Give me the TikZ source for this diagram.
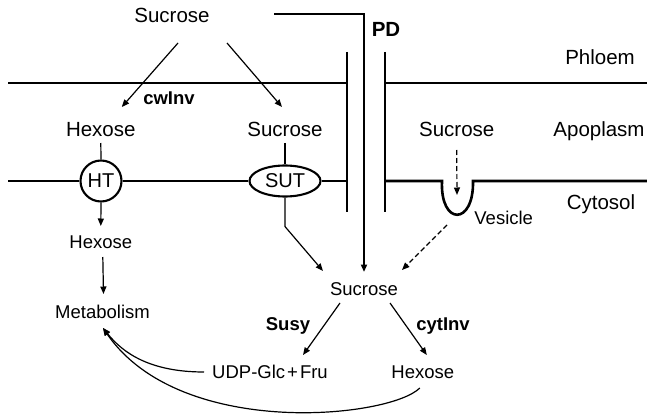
\documentclass[tikz,border=0pt]{standalone}
\usepackage{fontspec}
\setmainfont{Liberation Sans}
\usetikzlibrary{arrows.meta, calc, shapes.geometric}
\tikzset{
  lbl/.style     = {font=\fontsize{20.5}{24}\selectfont, inner sep=0pt, anchor=base},
  met/.style     = {font=\fontsize{18.5}{22}\selectfont, inner sep=0pt, anchor=base},
  enz/.style     = {font=\fontsize{18.5}{22}\selectfont\bfseries, inner sep=0pt, anchor=base},
  memb/.style    = {line width=2.6pt},
  wall/.style    = {line width=2.4pt},
  carrier/.style = {draw, line width=2.1pt, inner sep=0pt, font=\fontsize{20}{24}\selectfont},
  fl/.style      = {-{Triangle[length=7.5pt, width=6pt]}, line width=1.2pt},
  dfl/.style     = {fl, dash pattern=on 5pt off 3pt},
  tie/.style     = {line width=1.2pt},
}

\begin{document}
\begin{tikzpicture}[x=1pt, y=-1pt]
\useasboundingbox (0,0) rectangle (647,414);

% compartment labels
\node[lbl] (phl) at (600,65)  {Phloem};
\node[lbl] (apo) at (599,137) {Apoplasm};
\node[lbl] (cyt) at (601,209) {Cytosol};

% membranes, plasmodesma and vesicle
\node[carrier, circle, minimum size=41pt] (ht) at (101,181) {HT};
\node[carrier, ellipse, minimum width=71pt, minimum height=31pt] (sut) at (285,181) {SUT};
\draw[memb] (8,83) -- (347,83) (385,83) -- (647,83);
\draw[memb] (8,181) -- (ht.west) (ht.east) -- (sut.west) (sut.east) -- (347,181);
\draw[memb] (385,181) -- (442,181) .. controls (440,226) and (474,226) .. (473,181) -- (647,181);
\draw[wall] (347,52) -- (347,212) (385,52) -- (385,212);
\coordinate (ves) at (457,215);

% sugars
\node[lbl] (sucTop) at (172,23)    {Sucrose};
\node[lbl] (hexApo) at (100.8,137) {Hexose};
\node[lbl] (sucApo) at (285,137)   {Sucrose};
\node[lbl] (sucVes) at (456.7,137) {Sucrose};
\node[met] (hexCyt) at (100.8,248) {Hexose};
\node[met] (metab)  at (102.5,318) {Metabolism};
\node[met] (sucCyt) at (364,295)   {Sucrose};
\node[met] (udp)    at (270,378)   {UDP-Glc\hspace{2pt}+\hspace{2pt}Fru};
\node[met] (hexOut) at (422.8,378) {Hexose};
\node[met] (vesLbl) at (503.7,224) {Vesicle};

% enzymes
\node[lbl, font=\fontsize{20.5}{24}\selectfont\bfseries] (pd) at (386,37) {PD};
\node[enz] (cwinv)  at (169,105) {cwInv};
\node[enz] (susy)   at (288,330) {Susy};
\node[enz] (cytinv) at (443,330) {cytInv};

% fluxes
\draw[fl] ($(sucTop.base)+(6,20)$) -- ($(hexApo.base)+(21,-30)$);
\draw[fl] ($(sucTop.base)+(55,20)$) -- ($(sucApo.base)+(-3,-30)$);
\draw[fl, line width=1.9pt] ($(sucTop.base)+(102,-9)$) -| ($(sucCyt.base)+(0,-23)$);
\draw[tie] ($(hexApo.base)+(0,6)$) -- (ht.north);
\draw[fl] (ht.south) -- ($(hexCyt.base)+(0,-22)$);
\draw[fl] ($(hexCyt.base)+(2,9)$) -- ($(metab.base)+(1,-24)$);
\draw[tie] ($(sucApo.base)+(0,6)$) -- (sut.north);
\draw[fl] (sut.south) -- ++(0,29) -- ($(sucCyt.base)+(-41,-24)$);
\draw[dfl] ($(sucVes.base)+(0,13)$) -- ($(ves)+(0,-20)$);
\draw[dfl] ($(ves)+(-10,10)$) -- ($(sucCyt.base)+(38,-25)$);
\draw[fl] ($(sucCyt.base)+(-24,8)$) -- ($(udp.base)+(33,-23)$);
\draw[fl] ($(sucCyt.base)+(26,8)$) -- ($(hexOut.base)+(4,-23)$);
\draw[fl] ($(udp.base)+(-66,-6)$) .. controls +(-54,0) and +(20,25) .. ($(metab.base)+(0.5,10)$);
\draw[fl] ($(hexOut.base)+(-3,10)$) .. controls +(-30,30) and +(77,112) .. ($(metab.base)+(0.5,10)$);
\end{tikzpicture}
\end{document}
